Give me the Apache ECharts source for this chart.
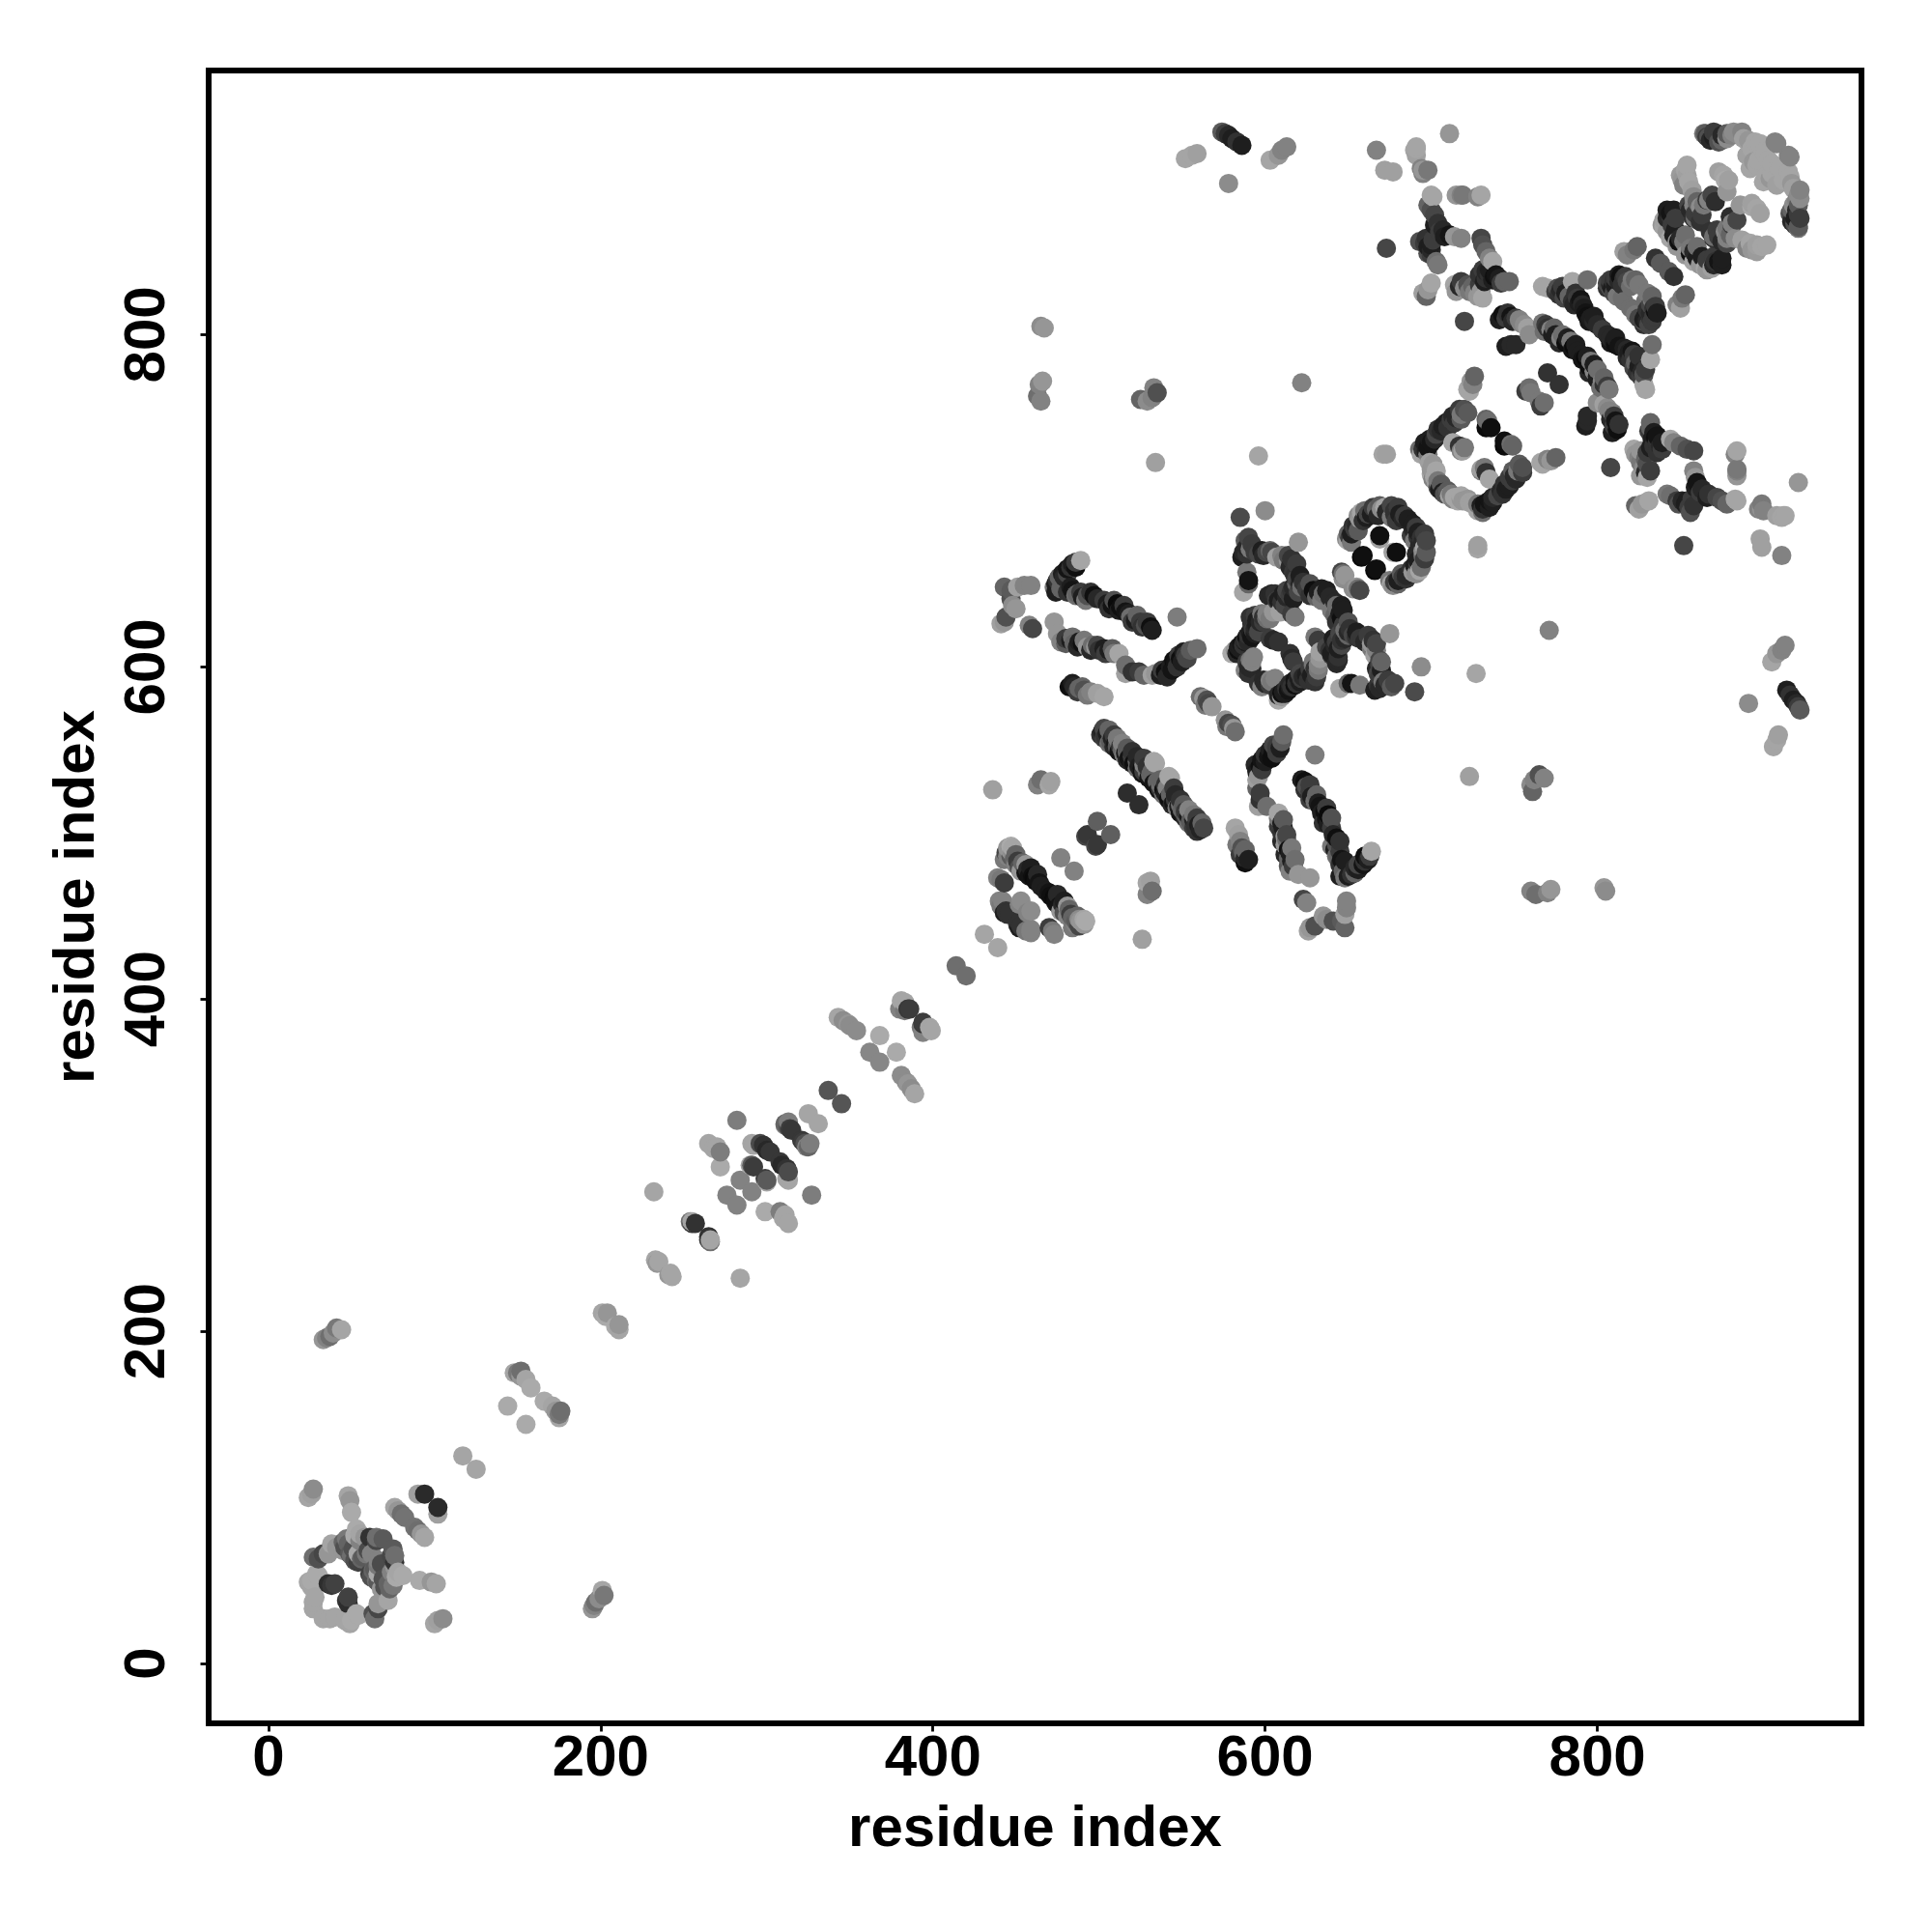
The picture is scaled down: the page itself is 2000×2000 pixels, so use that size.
<!DOCTYPE html>
<html>
<head>
<meta charset="utf-8">
<script src="https://cdn.jsdelivr.net/npm/echarts@6/dist/echarts.min.js"></script>
<style>html,body{margin:0;padding:0;background:#fff}#c{width:2000px;height:2000px}</style>
</head>
<body>
<div id="c"></div>
<script>
// Each contact: residue i, residue j, rank (0 = strongest contact, higher = weaker)
const tickValues = [0, 200, 400, 600, 800];
const axisTitle = 'residue index';
const contactsDomainA = [
[24,100,165],[26,102,160],[27,105,140],[48,101,165],[49,98,150],[50,91,170],[90,102,160],[94,102,42],
[76,94,165],[78,92,150],[80,90,110],[82,88,115],[53,81,170],[55,78,165],[58,76,150],[61,76,50],[65,74,70],[69,75,90],[65,76,110],
[27,64,110],[30,63,80],[33,66,70],[36,66,150],[38,72,165],[41,70,150],[45,73,100],[46,70,80],[49,66,90],[50,65,110],[52,77,170],
[26,50,170],[24,49,165],[30,53,170],[27,37,165],[27,33,165],[28,40,165],[26,46,165],[29,54,170],
[38,47,55],[40,48,65],[36,48,45],[54,61,65],[52,62,80],[56,63,100],[60,68,75],[59,66,120],[54,66,170],
[45,68,150],[48,72,100],[47,75,120],[51,69,80],[55,74,130],[57,64,90],[62,66,130]];
const contactsDomainB = [
[33,195,150],[35,196,130],[37,197,110],[39,199,140],[41,202,120],[44,201,165],[117,125,165],
[148,175,165],[150,175,120],[152,173,150],[155,171,165],[158,166,170],[152,176,110],[144,155,170],
[201,211,165],[204,211,150],[203,209,170],[233,243,165],[235,242,165],[234,241,150]];
const contactsDomainC = [
[232,284,165],[254,266,110],[255,265,55],[257,265,50],[255,266,165],[265,313,165],[268,310,165],[272,308,125],[270,311,165],[272,299,170],
[282,327,125],[276,282,130],[284,291,130],[291,313,165],[296,313,75],[298,312,50],[300,309,40],[302,308,55],[290,300,165],[291,300,90],[292,299,60],[292,312,165],
[311,324,130],[313,326,125],[314,322,60],[315,321,55],[313,323,80],[311,325,100],[325,331,165],[337,345,85],
[343,389,165],[346,387,140],[349,385,150],[350,384,140],[354,381,140],[368,378,170],[362,368,135],
[381,399,165],[380,394,130],[386,394,60],[385,394,55],[383,393,120],[383,398,165],[414,420,110],[431,439,165]];
const contactsDomainD = [
[439,473,130],[441,472,120],[443,470,60],[443,484,120],[445,491,150],[447,492,170],[448,488,140],[449,484,100],[450,481,130],[452,479,80],[453,477,150],
[456,481,150],[457,478,40],[458,474,20],[460,474,15],[461,473,10],[464,470,20],[465,468,30],[448,491,165],[447,489,150],[445,486,130],[450,487,100],
[442,459,130],[440,459,130],[441,456,120],[444,453,50],[443,452,30],[446,452,50],[445,451,50],[453,459,140],[452,457,130],
[436,526,160],[463,529,130],[465,532,110],[471,531,160],[470,529,165],[477,485,130],[499,507,95],[493,499,55],[492,498,70],[517,524,45],
[454,482,100],[456,476,20],[459,479,30],[462,471,15],[463,475,40],[447,486,90],[451,483,60],[444,488,70]];
const contactsStrandE = [
[502,561,35],[504,558,50],[505,560,30],[507,555,90],[508,557,35],[510,554,25],[511,552,90],[513,552,55],[514,550,100],[516,548,30],[517,549,110],
[518,545,20],[520,546,60],[521,542,15],[523,543,100],[524,540,30],[526,539,15],[527,537,60],[529,537,110],[530,533,20],[531,535,100],[527,545,60],[534,542,165],[533,543,165],
[482,588,15],[485,588,40],[488,587,100],[491,586,80],[495,585,130],[499,584,160],[503,582,165],
[561,582,110],[563,581,150],[565,580,80],[566,578,70],[568,576,150],[564,577,120],
[503,563,70],[506,562,100],[509,559,60],[511,557,120],[514,554,130],[517,551,90],[520,549,50],[523,546,40],[527,541,130],[529,540,50],[532,537,100],
[501,559,50],[503,557,60],[506,554,110],[509,552,40],[512,549,20],[515,547,120],[517,544,40],[520,542,30],[523,539,110],[526,536,20],
[484,590,30],[487,585,60],[490,588,100],[493,583,120]];
const contactsStrandF = [
[443,648,100],[447,646,90],[451,648,160],[455,649,130],[459,649,130],[447,641,80],[448,637,140],[450,635,150],[444,630,80],[443,627,150],[441,626,160],
[460,623,70],[458,625,130],[473,627,150],[475,620,150],[489,664,165],[486,663,60],[484,662,30],[481,659,20],[478,656,30],[475,652,50],[473,648,120],[474,645,30],[477,647,100],
[481,645,50],[484,646,20],[487,644,100],[490,642,30],[493,643,80],[497,643,15],[505,638,30],[508,637,20],[511,638,10],[513,636,15],[516,633,20],[519,630,110],[522,628,30],[525,627,60],[528,625,80],[531,624,15],
[547,630,125],[477,615,130],[480,617,60],[483,616,30],[485,614,100],[488,615,30],[490,614,15],[493,612,150],[496,613,110],[498,612,150],[500,610,50],[503,611,30],[506,610,30],[509,608,120],[512,608,165],
[516,601,110],[516,596,160],[520,597,50],[524,597,60],[527,595,100],[532,595,160],[534,596,150],[537,595,30],[540,597,15],[543,600,30],[546,602,20],[549,605,15],[552,607,60],[555,610,90],[559,611,110],
[480,614,90],[484,618,110],[487,612,40],[491,616,120],[495,610,40],[499,613,70],[504,608,60],[508,611,90],
[538,598,60],[541,594,40],[544,598,20],[547,600,50],[550,603,30],[553,605,70],[548,607,60],[551,609,30],[545,604,15],
[479,654,40],[476,654,100],[474,650,30],[483,660,50],[481,656,70],[486,660,15],[483,648,30],[486,643,110],[489,645,60],[492,640,120],[495,645,50],[499,641,40],[503,640,60],[506,635,50],[509,640,80],[512,634,30],[515,637,60],[518,632,30],[520,627,60],[523,631,100],[526,624,50],[529,627,60],[532,622,30]];
const contactsKnotG = [
[585,690,75],[600,694,140],[620,675,150],[590,678,70],[588,676,90],[587,669,40],[586,666,30],[589,668,50],[591,671,120],[598,670,30],[601,669,70],[603,670,100],[604,669,70],[607,666,160],[610,667,130],[614,664,150],[616,665,50],
[617,657,55],[618,655,50],[619,650,100],[621,650,40],[616,646,50],[622,648,110],[625,647,60],[629,646,15],[632,645,30],[635,644,110],[637,643,110],
[589,657,120],[590,652,20],[587,645,165],[590,650,100],
[582,610,150],[584,612,30],[586,614,20],[588,616,50],[589,618,15],[591,621,30],[593,622,60],[595,625,30],[597,627,40],[599,630,50],[591,630,50],
[584,610,15],[588,615,30],[594,620,30],[592,626,50],[591,604,120],[590,600,40],[592,603,130],[592,599,40],
[603,617,60],[608,615,50],[605,616,40],[618,630,120],[616,632,60],[601,629,110],[603,629,120],[605,633,150],[609,633,160],[606,644,50],[604,644,40],[610,639,50],[608,640,30],[615,643,60],[613,642,40],
[592,674,60],[589,672,40],[594,669,60],[596,668,70],[599,667,40],[611,664,120],[614,667,70],[619,662,60],[615,660,40],[619,653,70],[621,655,30],[617,648,40],[620,645,70],[623,651,50],[627,643,50],[627,650,80],[631,642,100],[634,647,30],[634,640,120],[637,646,30],[639,642,40],
[580,608,170],[583,608,40],[585,611,30],[587,613,50],[590,615,40],[590,619,50],[592,618,20],[594,623,40],[596,621,70],[598,632,120],[595,628,30],[594,631,60],[589,603,60],[588,598,130],[593,606,130],[590,596,50],
[602,643,40],[607,640,60],[611,644,30],[612,637,70],[601,632,130],[599,627,60],[613,646,70],[617,641,30]];
const contactsRingH = [
[650,676,165],[650,680,100],[652,680,30],[654,683,60],[655,685,40],[657,689,150],[658,693,165],[661,690,30],[664,692,30],[667,695,100],[670,695,140],[672,696,165],[675,695,40],[678,694,50],[684,691,60],[683,689,40],[678,692,50],
[658,666,10],[659,667,15],[669,677,160],[669,679,15],[647,656,110],[648,655,150],[646,657,70],[647,653,140],[671,728,165],[673,728,160],[596,727,165],[534,723,160],[622,771,130],
[651,678,60],[653,685,50],[656,682,90],[656,691,140],[659,688,50],[660,694,110],[662,692,70],[665,696,60],[668,691,40],[669,697,90],[673,693,40],[676,697,70],[680,696,60],[681,692,30],[686,689,30],[679,688,60],[676,690,120],[652,675,120],[649,677,140]];
const contactsRingI = [
[720,755,80],[718,752,120],[715,750,40],[712,749,60],[709,747,30],[706,742,40],[703,740,70],[700,735,20],[698,732,20],[697,730,30],[694,728,165],[693,731,110],
[701,722,150],[703,718,165],[702,714,165],[704,712,120],[705,707,30],[708,704,80],[701,713,130],[700,716,165],[700,719,150],[698,725,160],[698,728,120],
[733,744,10],[733,749,100],[736,744,15],[734,748,110],[720,732,120],[718,730,130],[713,735,165],[717,733,50],[719,730,160],
[722,767,165],[723,766,165],[726,775,100],[725,770,130],[724,772,150],[759,768,110],[757,766,60],[760,765,120],[770,777,50],
[696,735,30],[699,737,30],[702,737,40],[704,743,50],[707,745,30],[710,744,50],[713,751,40],[714,747,60],[717,755,60],[718,749,90],[722,753,90],[695,731,50],[699,723,160],[701,718,150],[703,711,160],[706,710,90]];
const contactsArmJ = [
[691,913,165],[694,900,130],[695,899,150],[690,911,165],[700,884,165],[715,884,150],[718,884,130],[730,884,165],[719,884,120],[728,883,130],[701,883,165],
[700,875,80],[702,872,70],[704,867,50],[707,863,40],[711,860,20],[714,859,150],[718,858,130],[693,856,80],[696,855,60],[698,853,30],[700,851,40],[700,848,60],[703,844,110],[704,842,120],
[700,831,165],[698,827,150],[697,823,100],[695,825,160],[730,858,70],[731,854,80],[733,850,100],[735,846,130],[737,844,165],
[733,838,40],[735,836,50],[738,835,15],[741,834,30],[744,832,100],[747,832,100],[714,830,165],[717,829,40],[720,828,140],[723,826,120],[726,825,130],[728,823,150],[731,822,165],[733,834,50],[729,830,60],[720,808,70],
[711,921,150],[673,852,70],[677,898,160],[672,899,160],[667,911,130],[695,897,130],[698,899,120],[691,908,160],[691,912,165],
[700,854,30],[697,858,50],[701,857,60],[698,849,80],[705,862,60],[702,866,30],[708,859,30],[698,878,100],
[715,826,150],[718,832,60],[722,830,80],[725,829,100],[730,826,150],[735,839,30],[737,833,30],[739,836,20],[742,831,60],[732,832,30],[731,839,60],[729,836,50]];
const contactsCrossK = [
[743,812,15],[745,810,60],[748,811,20],[751,810,60],[753,809,130],[756,806,140],[758,804,160],[767,807,120],[770,804,50],[772,803,130],[775,800,30],[778,798,130],[781,795,15],[784,796,120],[786,793,10],[788,790,30],
[745,793,30],[748,794,40],[751,794,40],[759,800,140],[778,827,40],[775,826,60],[776,828,80],[781,825,30],[783,823,100],[785,820,50],[788,822,60],[790,821,20],[792,816,30],[794,811,15],[796,810,30],[798,808,40],
[785,832,165],[794,833,110],[767,829,165],[770,828,165],[806,831,70],[808,830,40],[810,832,50],[813,836,30],[817,835,60],[821,833,120],[825,830,120],[816,820,110],[815,822,110],[810,825,70],[808,828,80],[812,823,120],[823,833,100],[814,835,15],[809,828,30],[816,834,50],
[816,850,160],[818,848,130],[822,851,120],[824,853,100],[835,846,50],[838,843,90],
[777,824,50],[779,829,60],[780,822,70],[786,818,40],[787,825,50],[789,819,30],[793,813,20],[791,818,40],[795,808,25],[798,811,30],[800,806,40],[803,803,60],
[741,809,30],[746,813,50],[749,808,40],[754,807,130],[769,806,60],[768,802,110],[773,800,30],[774,804,100],[777,795,40],[779,800,110],[782,798,30],[785,791,20],[787,794,30],
[806,828,50],[811,829,30],[813,832,40],[811,834,60],[815,830,50],[818,832,70],[820,829,110],[808,833,60]];
const contactsTailL = [
[853,899,165],[854,896,160],[851,893,150],[855,892,165],[852,890,130],[859,870,110],[858,878,130],[862,877,140],[866,881,60],[871,880,45],
[844,873,20],[842,870,40],[840,869,160],[839,866,150],[846,860,30],[848,856,140],[849,856,15],[844,858,165],[856,875,40],[862,868,50],[867,881,130],[858,883,140],[840,865,165],
[864,921,120],[867,919,80],[870,919,30],[873,916,80],[875,917,100],[878,918,140],[881,920,130],[884,921,140],[888,918,160],[895,916,165],[900,910,165],[907,916,130],[915,908,130],
[894,904,150],[890,908,160],[896,902,165],[901,909,165],[876,896,165],[877,893,170],[878,886,150],[891,917,150],[882,922,140],[878,921,90],[865,921,90],[875,920,40],
[842,875,30],[844,871,50],[846,875,30],[847,870,60],[847,863,30],[850,858,40],[852,856,120],[853,860,110],[845,866,60],[842,862,150],[859,873,60],[863,872,60],[860,880,100],[864,878,120],[869,884,70],[855,878,70],[858,870,50],[848,853,150],[854,902,165],[850,896,155],[857,887,160],[879,893,160],[873,898,160],
[893,912,165],[897,905,165],[898,915,165],[903,905,165],[892,900,165],[887,922,130],[870,922,60],[872,921,60],[866,919,60],[868,917,40]];
const contactsLongRangeM = [
[552,906,165],[556,908,165],[559,909,160],[574,922,90],[576,921,60],[578,920,40],[580,918,30],[583,916,50],[586,914,30],[578,891,140],
[603,905,165],[610,911,130],[613,913,130],[608,908,150],[465,805,140],[467,804,150],[466,772,150],[464,770,130],[465,760,130],[463,763,110],
[525,761,100],[529,760,140],[532,762,130],[533,768,130],[535,765,80]];

const contacts = [].concat(contactsDomainA, contactsDomainB, contactsDomainC, contactsDomainD, contactsStrandE,
  contactsStrandF, contactsKnotG, contactsRingH, contactsRingI, contactsArmJ, contactsCrossK, contactsTailL, contactsLongRangeM);
// A contact map is symmetric: every pair is plotted as (i,j) and (j,i), in ascending x.
const points = [];
contacts.forEach(c => { points.push([c[0], c[1], c[2]]); points.push([c[1], c[0], c[2]]); });
points.sort((a, b) => a[0] - b[0] || a[1] - b[1]);

const font = 'Liberation Sans';
const makeAxis = (isY) => ({
  type: 'value', min: -36, max: 959, splitLine: {show: false},
  axisLine: {show: false, onZero: false},
  name: axisTitle, nameLocation: 'middle', nameGap: isY ? 106 : 80,
  nameRotate: isY ? 90 : 0,
  nameTextStyle: {fontFamily: font, fontWeight: 'bold', fontSize: 60, color: '#000'},
  axisTick: {show: true, length: 8.5, inside: false, lineStyle: {color: '#000', width: 2.8}, customValues: tickValues},
  axisLabel: {show: true, fontFamily: font, fontWeight: 'bold', fontSize: 60, color: '#000', margin: isY ? 33 : 7,
    rotate: isY ? 90 : 0, customValues: tickValues, showMinLabel: true, showMaxLabel: true, hideOverlap: false}
});
const chart = echarts.init(document.getElementById('c'), null, {renderer: 'canvas'});
chart.setOption({
  animation: false,
  backgroundColor: '#fff',
  grid: {left: 216, top: 73, width: 1711, height: 1711, show: true, borderColor: '#000', borderWidth: 6, backgroundColor: 'transparent', z: 5},
  xAxis: makeAxis(false),
  yAxis: makeAxis(true),
  visualMap: {show: false, type: 'continuous', dimension: 2, min: 0, max: 255, inRange: {color: ['#000000', '#ffffff']}},
  series: [{type: 'scatter', data: points, symbol: 'circle', symbolSize: 20, itemStyle: {opacity: 1}, large: false, progressive: 0}]
});
</script>
</body>
</html>
